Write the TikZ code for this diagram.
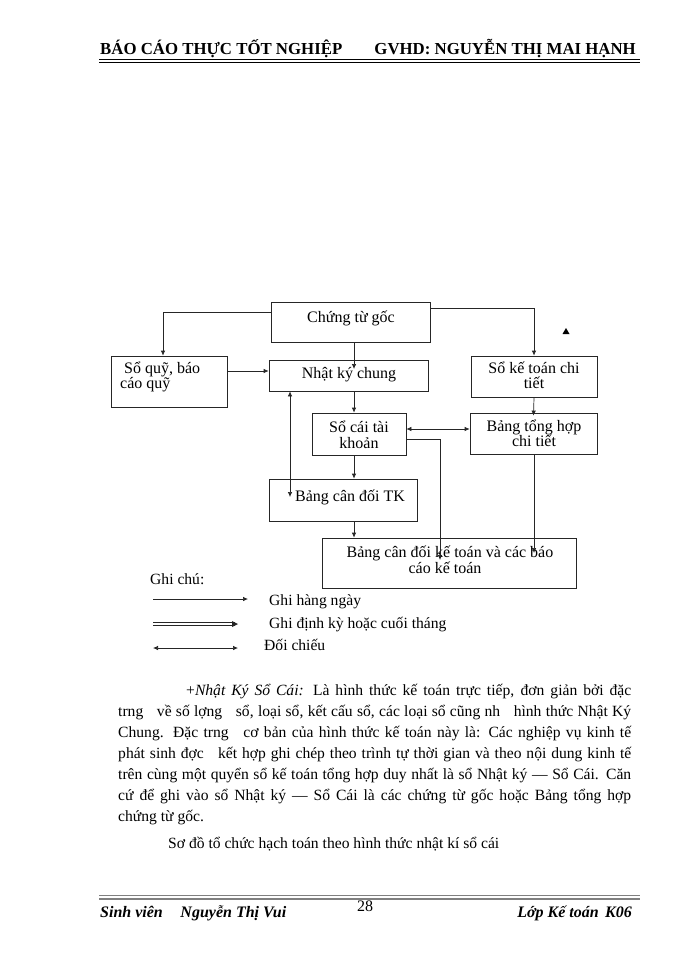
\documentclass[tikz,border=0pt]{standalone}
\usepackage{fontspec}
\setmainfont{Liberation Serif}
\usetikzlibrary{arrows.meta}
\tikzset{
  box/.style={draw=black!85, line width=0.7pt, inner sep=0pt, anchor=center},
  dtxt/.style={font=\fontsize{16}{16}\selectfont, inner sep=0pt, anchor=base},
  dtxtw/.style={font=\fontsize{16}{16}\selectfont, inner sep=0pt, anchor=base west},
  ltxt/.style={font=\fontsize{15.6}{16}\selectfont, inner sep=0pt, anchor=base west},
  htxt/.style={font=\fontsize{16.8}{17}\selectfont\bfseries, inner sep=0pt, anchor=base west},
  ftxt/.style={font=\fontsize{16}{17}\selectfont\bfseries\itshape, inner sep=0pt, anchor=base west},
  conn/.style={line width=0.7pt, draw=black!85},
  arr/.style={conn, -{Latex[length=5pt,width=4.5pt]}},
  darr/.style={conn, {Latex[length=5pt,width=4.5pt]}-{Latex[length=5pt,width=4.5pt]}},
}
\begin{document}
\begin{tikzpicture}[x=1pt,y=-1pt]
\useasboundingbox (0,0) rectangle (700,960);
\fill[white] (0,0) rectangle (700,960);

% header
\node[htxt] (h1) at (100,55) {BÁO CÁO THỰC TỐT NGHIỆP};
\node[htxt, anchor=base east] (h2) at (636,55) {GVHD: NGUYỄN THỊ MAI HẠNH};
\draw[line width=1.6pt] (99,59.5) -- (640,59.5);
\draw[line width=0.6pt] (99,62.6) -- (640,62.6);

% boxes
\node[box, minimum width=159pt, minimum height=40pt] (ctg) at (350.5,322) {};
\node[box, minimum width=116pt, minimum height=51pt] (sq) at (169,381.5) {};
\node[box, minimum width=159pt, minimum height=31pt] (nkc) at (348.5,375.5) {};
\node[box, minimum width=126pt, minimum height=41pt] (sktc) at (534,376.5) {};
\node[box, minimum width=94pt, minimum height=42pt] (sctk) at (359,434) {};
\node[box, minimum width=127pt, minimum height=41pt] (bth) at (533.5,433.5) {};
\node[box, minimum width=148pt, minimum height=42pt] (bcdtk) at (343,500) {};
\node[box, minimum width=254pt, minimum height=50pt] (bcdkt) at (449,563) {};

% box texts
\node[dtxt] (t1) at (351,322) {Chứng từ gốc};
\node[dtxtw] (t2a) at (124,373) {Sổ quỹ, báo};
\node[dtxtw] (t2b) at (120,388) {cáo quỹ};
\node[dtxt] (t3) at (349,378) {Nhật ký chung};
\node[dtxt] (t4a) at (534,373) {Sổ kế toán chi};
\node[dtxt] (t4b) at (534,388.5) {tiết};
\node[dtxt] (t5a) at (359,432.5) {Sổ cái tài};
\node[dtxt] (t5b) at (359,448) {khoản};
\node[dtxt] (t6a) at (534,431) {Bảng tổng hợp};
\node[dtxt] (t6b) at (534,446.5) {chi tiết};
\node[dtxt] (t7) at (350,501) {Bảng cân đối TK};
\node[dtxt] (t8a) at (450,557.5) {Bảng cân đối kế toán và các báo};
\node[dtxt] (t8b) at (445,573) {cáo kế toán};

% connectors
\coordinate (k1) at (163,312);
\draw[arr] (ctg.west |- k1) -| (sq.north -| k1);
\coordinate (k2) at (534,308);
\draw[arr] (ctg.east |- k2) -| (sktc.north);
\coordinate (k3) at (354,369);
\draw[arr] (ctg.south -| k3) -- (k3);
\coordinate (k4) at (240,371);
\draw[arr] (sq.east |- k4) -- (nkc.west |- k4);
\coordinate (k5) at (354,400);
\draw[arr] (nkc.south -| k5) -- (sctk.north -| k5);
\draw[arr] (sktc.south) -- ([yshift=-3pt]bth.north);
\coordinate (k7) at (440,429);
\draw[darr] (sctk.east |- k7) -- (bth.west |- k7);
\coordinate (k8) at (440,439);
\coordinate (k8e) at (440,560);
\draw[arr] (sctk.east |- k8) -| (k8e);
\draw[arr] (sctk.south -| k5) -- (bcdtk.north -| k5);
\draw[arr] (bcdtk.south -| k5) -- (bcdkt.north -| k5);
\coordinate (k11) at (290,497);
\draw[darr] (nkc.south -| k11) -- (k11);
\coordinate (k12) at (534,553);
\draw[arr] (bth.south -| k12) -- (k12);

% stray triangle
\fill (566,328) -- (569.5,334) -- (562.5,334) -- cycle;

% legend
\node[ltxt] (g0) at (150,584) {Ghi chú:};
\coordinate (la1) at (153,599); \coordinate (lb1) at (248,599);
\draw[arr] (la1) -- (lb1);
\coordinate (la2) at (153,624); \coordinate (lb2) at (238,624);
\draw[conn, line width=0.6pt] ([yshift=1.3pt]la2) -- ([yshift=1.3pt,xshift=-3pt]lb2);
\draw[conn, line width=0.6pt] ([yshift=-1.3pt]la2) -- ([yshift=-1.3pt,xshift=-3pt]lb2);
\fill[black!85] (lb2) -- ++(-6,-3) -- ++(0,6) -- cycle;
\coordinate (la3) at (153,648); \coordinate (lb3) at (238,648);
\draw[darr] (la3) -- (lb3);
\node[ltxt] (g1) at (269,605) {Ghi hàng ngày};
\node[ltxt] (g2) at (269,628) {Ghi định kỳ hoặc cuối tháng};
\node[ltxt] (g3) at (264,650) {Đối chiếu};

% paragraph
\node[ltxt] (p1) at (186,695) {\makebox[445pt][s]{+\textit{Nhật Ký Sổ Cái:} Là hình thức kế toán trực tiếp, đơn giản bởi đặc}};
\node[ltxt] (p2) at (118,716) {\makebox[513pt][s]{trng\hspace{0.6em} về số lợng\hspace{0.6em} sổ, loại sổ, kết cấu sổ, các loại sổ cũng nh\hspace{0.6em} hình thức Nhật Ký}};
\node[ltxt] (p3) at (118,737) {\makebox[513pt][s]{Chung. Đặc trng\hspace{0.6em} cơ bản của hình thức kế toán này là: Các nghiệp vụ kinh tế}};
\node[ltxt] (p4) at (118,758) {\makebox[513pt][s]{phát sinh đợc\hspace{0.6em} kết hợp ghi chép theo trình tự thời gian và theo nội dung kinh tế}};
\node[ltxt] (p5) at (118,779) {\makebox[513pt][s]{trên cùng một quyển sổ kế toán tổng hợp duy nhất là sổ Nhật ký — Sổ Cái. Căn}};
\node[ltxt] (p6) at (118,800) {\makebox[513pt][s]{cứ để ghi vào sổ Nhật ký — Sổ Cái là các chứng từ gốc hoặc Bảng tổng hợp}};
\node[ltxt] (p7) at (118,821) {chứng từ gốc.};
\node[ltxt] (p8) at (168,848) {Sơ đồ tổ chức hạch toán theo hình thức nhật kí sổ cái};

% footer
\draw[gray, line width=0.8pt] (99,895.5) -- (640,895.5);
\draw[gray, line width=2pt] (99,898.5) -- (640,898.5);
\node[ftxt] (f1) at (100,917) {Sinh viên\hspace{1.1em}Nguyễn Thị Vui};
\node[ltxt, font=\fontsize{16}{17}\selectfont] (f2) at (357,911) {28};
\node[ftxt, anchor=base east] (f3) at (632,917) {Lớp Kế toán\hspace{0.4em}K06};
\end{tikzpicture}
\end{document}
